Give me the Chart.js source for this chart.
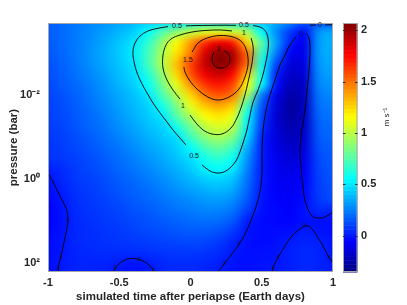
<!DOCTYPE html>
<html>
<head>
<meta charset="utf-8">
<script src="https://cdn.jsdelivr.net/npm/chart.js@4.4.0/dist/chart.umd.min.js"></script>
<style>
html, body { margin: 0; padding: 0; background: #fff; }
canvas { display: block; }
</style>
</head>
<body>
<canvas id="windChart" width="407" height="305"></canvas>
<script>
// grid of the simulated wind speed (m s-1), rows follow pressureLevels (bar)
const times = [-1, -0.9, -0.8, -0.7, -0.6, -0.5, -0.4, -0.3, -0.2, -0.1, 0, 0.1, 0.2, 0.3, 0.4, 0.5, 0.6, 0.7, 0.8, 0.9, 1];
const pressureLevels = [1.78e-4, 3.16e-4, 5.62e-4, 1e-3, 1.78e-3, 3.16e-3, 5.62e-3, 1e-2, 1.78e-2, 3.16e-2, 5.62e-2, 0.1,
    0.178, 0.316, 0.562, 1, 1.78, 3.16, 5.62, 10, 17.8, 31.6, 56.2, 100, 178];
const speed = [
    [0.17, 0.2, 0.23, 0.27, 0.3, 0.34, 0.39, 0.44, 0.47, 0.48, 0.48, 0.47, 0.45, 0.47, 0.45, 0.42, 0.36, 0.26, 0.15, 0.12, 0.12],
    [0.17, 0.2, 0.24, 0.28, 0.33, 0.38, 0.44, 0.55, 0.74, 0.88, 1.0, 1.08, 1.1, 1.05, 0.95, 0.55, 0.28, 0.08, -0.02, 0.3, 0.35],
    [0.16, 0.2, 0.24, 0.29, 0.35, 0.42, 0.49, 0.66, 0.9, 1.15, 1.4, 1.65, 1.8, 1.7, 1.25, 0.75, 0.33, 0.02, -0.1, 0.32, 0.37],
    [0.15, 0.19, 0.24, 0.3, 0.36, 0.43, 0.51, 0.7, 0.95, 1.22, 1.47, 1.85, 2.04, 1.95, 1.5, 0.68, 0.25, -0.08, -0.1, 0.32, 0.36],
    [0.14, 0.18, 0.23, 0.29, 0.35, 0.42, 0.49, 0.7, 0.97, 1.3, 1.6, 1.9, 2.06, 1.93, 1.5, 0.6, 0.12, -0.14, -0.12, 0.3, 0.35],
    [0.13, 0.17, 0.22, 0.27, 0.33, 0.4, 0.47, 0.63, 0.9, 1.25, 1.57, 1.8, 1.9, 1.75, 1.3, 0.6, 0.03, -0.18, -0.15, 0.28, 0.33],
    [0.12, 0.16, 0.2, 0.25, 0.31, 0.38, 0.44, 0.56, 0.82, 1.1, 1.42, 1.65, 1.72, 1.6, 1.15, 0.55, 0.0, -0.22, -0.18, 0.26, 0.3],
    [0.11, 0.14, 0.18, 0.23, 0.29, 0.35, 0.41, 0.5, 0.72, 0.97, 1.25, 1.48, 1.57, 1.48, 0.95, 0.25, -0.1, -0.25, -0.2, 0.23, 0.27],
    [0.1, 0.13, 0.17, 0.22, 0.27, 0.33, 0.39, 0.45, 0.6, 0.85, 1.1, 1.3, 1.38, 1.28, 0.7, 0.15, -0.14, -0.28, -0.2, 0.21, 0.24],
    [0.1, 0.12, 0.16, 0.2, 0.25, 0.31, 0.37, 0.43, 0.5, 0.75, 0.97, 1.15, 1.22, 1.1, 0.55, 0.1, -0.15, -0.27, -0.2, 0.19, 0.22],
    [0.09, 0.11, 0.15, 0.19, 0.23, 0.29, 0.34, 0.4, 0.45, 0.6, 0.82, 1.0, 1.08, 1.0, 0.5, 0.08, -0.15, -0.24, -0.19, 0.17, 0.2],
    [0.08, 0.1, 0.13, 0.17, 0.21, 0.26, 0.31, 0.37, 0.42, 0.48, 0.7, 0.88, 0.95, 0.85, 0.46, 0.03, -0.13, -0.21, -0.17, 0.16, 0.19],
    [0.07, 0.09, 0.12, 0.15, 0.19, 0.23, 0.28, 0.33, 0.38, 0.44, 0.55, 0.72, 0.8, 0.7, 0.36, 0.02, -0.11, -0.18, -0.14, 0.14, 0.17],
    [0.07, 0.08, 0.1, 0.13, 0.17, 0.21, 0.25, 0.3, 0.35, 0.41, 0.48, 0.6, 0.67, 0.58, 0.3, 0.02, -0.09, -0.15, -0.11, 0.12, 0.16],
    [0.02, 0.05, 0.09, 0.12, 0.15, 0.19, 0.23, 0.27, 0.32, 0.37, 0.43, 0.52, 0.56, 0.5, 0.26, 0.01, -0.08, -0.12, -0.08, 0.11, 0.15],
    [-0.01, 0.04, 0.08, 0.1, 0.13, 0.17, 0.2, 0.24, 0.28, 0.33, 0.38, 0.44, 0.46, 0.41, 0.22, 0.01, -0.07, -0.09, -0.06, 0.1, 0.14],
    [-0.03, 0.02, 0.07, 0.09, 0.12, 0.15, 0.18, 0.21, 0.25, 0.29, 0.33, 0.37, 0.39, 0.35, 0.19, 0.0, -0.06, -0.08, -0.04, 0.09, 0.13],
    [-0.04, 0.0, 0.06, 0.08, 0.1, 0.13, 0.16, 0.19, 0.22, 0.25, 0.28, 0.31, 0.32, 0.28, 0.15, -0.01, -0.05, -0.07, -0.03, 0.08, 0.12],
    [-0.05, -0.01, 0.05, 0.07, 0.09, 0.11, 0.14, 0.16, 0.19, 0.22, 0.24, 0.26, 0.26, 0.22, 0.09, -0.02, -0.04, -0.06, -0.01, 0.04, 0.03],
    [-0.05, -0.015, 0.04, 0.06, 0.08, 0.1, 0.12, 0.14, 0.16, 0.18, 0.2, 0.21, 0.2, 0.15, 0.01, -0.03, -0.04, -0.05, -0.02, -0.02, -0.02],
    [-0.04, -0.01, 0.04, 0.05, 0.07, 0.08, 0.1, 0.12, 0.13, 0.15, 0.16, 0.16, 0.14, 0.08, -0.01, -0.03, -0.03, -0.02, 0.01, -0.01, -0.02],
    [-0.03, 0.0, 0.04, 0.05, 0.06, 0.07, 0.08, 0.09, 0.1, 0.11, 0.12, 0.11, 0.08, 0.03, -0.02, -0.03, -0.02, 0.01, 0.03, 0.02, -0.01],
    [-0.03, 0.0, 0.03, 0.04, 0.05, 0.05, 0.05, 0.06, 0.07, 0.08, 0.08, 0.07, 0.05, 0.0, -0.02, -0.02, -0.01, 0.02, 0.04, 0.03, 0.0],
    [-0.02, 0.005, 0.03, 0.03, 0.03, 0.01, -0.01, 0.01, 0.04, 0.05, 0.05, 0.04, 0.02, -0.01, -0.02, -0.01, -0.005, 0.02, 0.04, 0.03, 0.0],
    [-0.02, 0.005, 0.03, 0.03, 0.02, -0.01, -0.02, -0.01, 0.03, 0.04, 0.04, 0.03, 0.0, -0.02, -0.02, -0.01, 0.005, 0.02, 0.04, 0.03, 0.02]
];

// contour lines, [time, pressure]
const contour05 = [
    [[0.081, 0.464], [0.137, 0.645], [0.186, 0.72], [0.235, 0.681], [0.277, 0.547], [0.319, 0.373], [0.347, 0.228], [0.375, 0.118],
     [0.396, 0.0681], [0.418, 0.0299], [0.439, 0.0147], [0.474, 7.6e-3], [0.502, 3.94e-3], [0.523, 2.04e-3], [0.544, 8.48e-4],
     [0.544, 4.4e-4], [0.523, 2.9e-4], [0.488, 2.4e-4], [0.439, 2.22e-4]],
    [[0.319, 2.2e-4], [0.242, 2.18e-4], [0.137, 2.2e-4], [0.032, 2.22e-4], [-0.032, 2.25e-4]],
    [[-0.158, 2.35e-4], [-0.228, 2.58e-4], [-0.298, 2.99e-4], [-0.354, 3.94e-4], [-0.389, 5.78e-4], [-0.404, 9.47e-4],
     [-0.396, 1.64e-3], [-0.375, 2.99e-3], [-0.34, 5.47e-3], [-0.305, 8.96e-3], [-0.263, 0.0155], [-0.214, 0.0268],
     [-0.165, 0.044], [-0.123, 0.0681], [-0.074, 0.106], [-0.032, 0.155]]
];
const contour1 = [
    [[-0.074, 0.0125], [-0.123, 7.6e-3], [-0.165, 4.4e-3], [-0.193, 2.28e-3], [-0.193, 1.12e-3], [-0.172, 6.45e-4],
     [-0.137, 4.64e-4], [-0.074, 3.73e-4], [0.011, 3.16e-4], [0.102, 2.91e-4], [0.207, 2.83e-4], [0.291, 2.99e-4]],
    [[0.425, 4.4e-4], [0.439, 6.81e-4], [0.439, 1.12e-3], [0.425, 2.28e-3], [0.404, 4.9e-3], [0.382, 0.01], [0.354, 0.0204],
     [0.326, 0.0353], [0.284, 0.0611], [0.221, 0.0848], [0.151, 0.0848], [0.088, 0.0681], [0.039, 0.0464], [-0.004, 0.0299]]
];
const contour15 = [
    [[0.011, 9.47e-4], [0.053, 5.78e-4], [0.116, 4.4e-4], [0.207, 3.83e-4], [0.298, 4.16e-4], [0.361, 5.47e-4], [0.396, 9.47e-4],
     [0.404, 1.83e-3], [0.382, 3.73e-3], [0.34, 7.2e-3], [0.27, 0.0112], [0.193, 0.0132], [0.123, 0.0112], [0.053, 7.6e-3],
     [-0.004, 4.64e-3], [-0.039, 2.83e-3], [-0.046, 2.16e-3]]
];
const contour2 = [
    [[0.235, 8.96e-4], [0.263, 1.0e-3], [0.277, 1.47e-3], [0.256, 2.04e-3], [0.207, 2.28e-3], [0.165, 1.93e-3], [0.151, 1.32e-3],
     [0.165, 9.47e-4]]
];
const contour0 = [
    [[0.74, 4.16e-4], [0.698, 6.45e-4], [0.663, 1.12e-3], [0.628, 1.93e-3], [0.593, 4.4e-3], [0.558, 0.01], [0.53, 0.0228],
     [0.509, 0.0681], [0.502, 0.204], [0.502, 0.611], [0.495, 1.39], [0.474, 3.16], [0.439, 7.2], [0.396, 16.4], [0.347, 33.4],
     [0.291, 61.1], [0.242, 100], [0.193, 164]],
    [[0.811, 3.34e-4], [0.832, 4.4e-4], [0.839, 8.48e-4], [0.832, 2.54e-3], [0.818, 7.6e-3], [0.804, 0.0228], [0.782, 0.0681],
     [0.768, 0.204], [0.775, 0.464], [0.796, 2.4], [0.818, 4.64], [0.853, 7.6], [0.895, 8.48], [0.944, 8.03], [1.0, 6.11]],
    [[0.572, 164], [0.586, 112], [0.621, 68.1], [0.663, 39.4], [0.712, 22.8], [0.768, 15.5], [0.796, 13.6], [0.825, 13.1],
     [0.86, 16.4], [0.895, 25.4], [0.93, 39.4], [0.958, 61.1], [1.0, 100]],
    [[0.839, 2.18e-4], [0.881, 2.16e-4]],
    [[0.944, 2.14e-4], [1.0, 2.12e-4]],
    [[-1.0, 0.72], [-0.972, 1.06], [-0.944, 1.64], [-0.909, 2.83], [-0.874, 4.9], [-0.86, 8.48], [-0.867, 14.7], [-0.881, 25.4],
     [-0.895, 41.6], [-0.909, 68.1], [-0.923, 106], [-0.93, 164]],
    [[-0.544, 164], [-0.516, 118], [-0.474, 89.6], [-0.425, 78.2], [-0.375, 80.3], [-0.333, 89.6], [-0.291, 112], [-0.249, 164]]
];

const labelText = ['0.5', '0.5', '0.5', '1', '1', '1.5', '2', '0', '0'];
const labelTime = [0.375, -0.095, 0.025, -0.053, 0.375, -0.018, 0.2, 0.775, 0.909];
const labelPres = [2.2e-4, 2.25e-4, 0.283, 0.0183, 3.34e-4, 1.47e-3, 8.25e-4, 3.53e-4, 2.16e-4];
// the tiny "0" labels on the lower contours
const markTime = [-0.86, -0.909, -0.93, -0.53, -0.361, -0.263, 0.34, 0.235, 0.796, 0.614, 0.579, 0.972];
const markPres = [10.0, 76, 139, 132, 84.8, 147, 35.3, 106, 13.1, 76, 139, 76];

const xTicks = [-1, -0.5, 0, 0.5, 1];
const yTicks = [1e-2, 1, 1e2];
const yTickLabels = ['10\u207B\u00B2', '10\u2070', '10\u00B2'];
const cbTicks = [0, 0.5, 1, 1.5, 2];
const cMin = -0.355, cMax = 2.07;

const FONT = "'Liberation Sans', Arial, Helvetica, sans-serif";
const INK = '#262626';

function jet(v) {
    const t = Math.min(1, Math.max(0, (v - cMin) / (cMax - cMin)));
    const f = c => Math.round(255 * Math.min(1, Math.max(0, 1.5 - Math.abs(4 * t - c))));
    return [f(3), f(2), f(1)];
}

const lineDatasets = [];
[contour05, contour1, contour15, contour2, contour0].forEach(group => {
    group.forEach(seg => {
        lineDatasets.push({
            data: seg.map(p => ({x: p[0], y: p[1]})),
            showLine: true,
            borderColor: '#000',
            borderWidth: 0.9,
            pointRadius: 0,
            tension: 0.35
        });
    });
});

// keep the plot box exactly where the figure has it
function fixBox(size, key) {
    return s => {
        s[key] = size;
        s.paddingTop = 0; s.paddingBottom = 0; s.paddingLeft = 0; s.paddingRight = 0;
    };
}

const fieldPlugin = {
    id: 'field',
    beforeDatasetsDraw(chart) {
        const {ctx, chartArea, scales} = chart;
        const nx = times.length, ny = pressureLevels.length;
        const off = document.createElement('canvas');
        off.width = nx; off.height = ny;
        const octx = off.getContext('2d');
        const img = octx.createImageData(nx, ny);
        for (let j = 0; j < ny; j++) {
            for (let i = 0; i < nx; i++) {
                const c = jet(speed[j][i]);
                const k = (j * nx + i) * 4;
                img.data[k] = c[0]; img.data[k + 1] = c[1]; img.data[k + 2] = c[2]; img.data[k + 3] = 255;
            }
        }
        octx.putImageData(img, 0, 0);

        const xa = scales.x.getPixelForValue(times[0]);
        const xb = scales.x.getPixelForValue(times[nx - 1]);
        const ya = scales.y.getPixelForValue(pressureLevels[0]);
        const yb = scales.y.getPixelForValue(pressureLevels[ny - 1]);
        const hx = (xb - xa) / (nx - 1) / 2, hy = (yb - ya) / (ny - 1) / 2;

        ctx.save();
        ctx.beginPath();
        ctx.rect(chartArea.left, chartArea.top, chartArea.right - chartArea.left, chartArea.bottom - chartArea.top);
        ctx.clip();
        ctx.imageSmoothingEnabled = true;
        ctx.imageSmoothingQuality = 'high';
        ctx.drawImage(off, xa - hx, ya - hy, xb - xa + 2 * hx, yb - ya + 2 * hy);
        ctx.restore();
    },
    afterDatasetsDraw(chart) {
        const {ctx, chartArea, scales} = chart;

        // axes box
        ctx.save();
        ctx.strokeStyle = '#a6a6a6';
        ctx.lineWidth = 1;
        ctx.strokeRect(chartArea.left + 0.5, chartArea.top + 0.5, chartArea.right - chartArea.left - 1, chartArea.bottom - chartArea.top - 1);
        ctx.restore();

        // contour labels
        ctx.save();
        ctx.fillStyle = '#111';
        ctx.textAlign = 'center';
        ctx.textBaseline = 'middle';
        ctx.font = '7px ' + FONT;
        labelText.forEach((t, i) => {
            ctx.fillText(t, scales.x.getPixelForValue(labelTime[i]), scales.y.getPixelForValue(labelPres[i]));
        });
        ctx.beginPath();
        ctx.rect(chartArea.left, chartArea.top, chartArea.right - chartArea.left, chartArea.bottom - chartArea.top);
        ctx.clip();
        ctx.font = '5px ' + FONT;
        markTime.forEach((t, i) => {
            ctx.fillText('0', scales.x.getPixelForValue(t), scales.y.getPixelForValue(markPres[i]));
        });
        ctx.restore();

        // colorbar
        const cb = scales.cb;
        const bx = cb.left + 10, bw = 14.5;
        const steps = 64;
        ctx.save();
        for (let s = 0; s < steps; s++) {
            const v0 = cMin + (cMax - cMin) * s / steps;
            const v1 = cMin + (cMax - cMin) * (s + 1) / steps;
            const c = jet((v0 + v1) / 2);
            ctx.fillStyle = 'rgb(' + c.join(',') + ')';
            const p0 = cb.getPixelForValue(v0), p1 = cb.getPixelForValue(v1);
            ctx.fillRect(bx, p1, bw, p0 - p1 + 0.5);
        }
        ctx.strokeStyle = '#a6a6a6';
        ctx.strokeRect(bx + 0.5, cb.top + 0.5, bw - 1, cb.bottom - cb.top - 1);
        ctx.strokeStyle = '#262626';
        cbTicks.forEach(v => {
            const py = Math.round(cb.getPixelForValue(v)) + 0.5;
            ctx.beginPath();
            ctx.moveTo(bx + bw - 2.5, py);
            ctx.lineTo(bx + bw, py);
            ctx.moveTo(bx, py);
            ctx.lineTo(bx + 2.5, py);
            ctx.stroke();
        });
        // colorbar unit
        ctx.translate(cb.left + 54, chartArea.top + 94);
        ctx.rotate(-Math.PI / 2);
        ctx.fillStyle = INK;
        ctx.font = '8px ' + FONT;
        ctx.textAlign = 'center';
        ctx.textBaseline = 'middle';
        ctx.fillText('m s\u207B\u00B9', 0, 0);
        ctx.restore();
    }
};

const tickFont = {family: FONT, size: 11, weight: 'bold'};
const titleFont = {family: FONT, size: 11.5, weight: 'bold'};
const noGrid = {display: false, drawTicks: false};

new Chart(document.getElementById('windChart'), {
    type: 'scatter',
    data: {datasets: lineDatasets},
    options: {
        responsive: false,
        animation: false,
        devicePixelRatio: 1,
        layout: {padding: {top: 23, left: 0, right: 0, bottom: 0}},
        plugins: {legend: {display: false}, tooltip: {enabled: false}},
        scales: {
            x: {
                type: 'linear', min: -1, max: 1,
                grid: noGrid, border: {display: false},
                afterBuildTicks: s => { s.ticks = xTicks.map(v => ({value: v})); },
                afterFit: fixBox(33, 'height'),
                ticks: {color: INK, font: tickFont, padding: 4, maxRotation: 0, autoSkip: false,
                    callback: v => String(v)},
                title: {display: true, text: 'simulated time after periapse (Earth days)', color: INK,
                    font: titleFont, padding: {top: 0, bottom: 1.5}}
            },
            y: {
                type: 'logarithmic', reverse: true, min: 1.93e-4, max: 164,
                grid: noGrid, border: {display: false},
                afterBuildTicks: s => { s.ticks = yTicks.map(v => ({value: v})); },
                afterFit: fixBox(48, 'width'),
                ticks: {color: INK, font: tickFont, padding: 8, autoSkip: false,
                    callback: (v, i) => yTickLabels[i]},
                title: {display: true, text: 'pressure (bar)', color: INK, font: titleFont,
                    padding: {top: 7, bottom: 0}}
            },
            cb: {
                type: 'linear', position: 'right', min: cMin, max: cMax,
                grid: noGrid, border: {display: false},
                afterBuildTicks: s => { s.ticks = cbTicks.map(v => ({value: v})); },
                afterFit: fixBox(74, 'width'),
                ticks: {color: INK, font: tickFont, padding: 28, autoSkip: false,
                    callback: v => String(v)}
            }
        }
    },
    plugins: [fieldPlugin]
});
</script>
</body>
</html>
